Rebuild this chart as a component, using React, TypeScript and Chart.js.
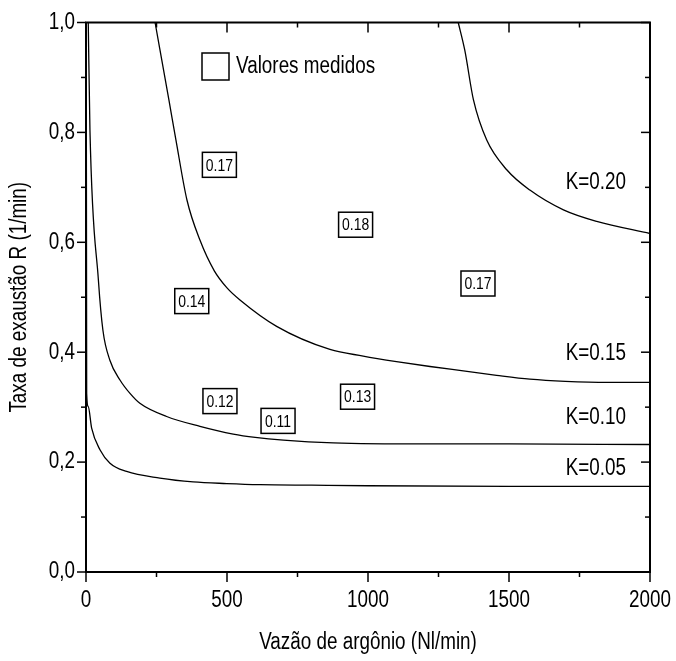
import React, { useEffect, useRef } from "react";
import { Chart, registerables } from "chart.js";

Chart.register(...registerables);

const FONT = '"Liberation Sans", Arial, sans-serif';
const NARROW = 0.82; // horizontal condensing to mimic Arial Narrow

// Axis tick labels
const xTicks = [0, 500, 1000, 1500, 2000];
const yTicks = [0, 0.2, 0.4, 0.6, 0.8, 1.0];

// Curves (x = Vazão de argônio, y = Taxa de exaustão)
const k05X = [1, 2.4, 8, 20, 50, 85, 144, 262, 380, 499, 617, 800, 1000, 1500, 2000];
const k05Y = [1.0, 0.325, 0.301, 0.262, 0.222, 0.198, 0.183, 0.171, 0.164, 0.161, 0.159, 0.158, 0.157, 0.156, 0.156];

const k10X = [8, 14, 44, 60, 85, 121, 156, 191, 286, 404, 522, 600, 700, 877, 1200, 1500, 2000];
const k10Y = [1.0, 0.804, 0.531, 0.44, 0.385, 0.349, 0.325, 0.307, 0.283, 0.265, 0.251, 0.245, 0.24, 0.235, 0.233, 0.233, 0.232];

const k15X = [245, 294, 319, 358, 404, 455, 500, 546, 676, 865, 983, 1101, 1220, 1338, 1456, 1574, 1700, 1850, 2000];
const k15Y = [1.0, 0.859, 0.786, 0.677, 0.604, 0.548, 0.517, 0.495, 0.447, 0.405, 0.393, 0.383, 0.374, 0.366, 0.358, 0.351, 0.347, 0.345, 0.345];

const k20X = [1320, 1343, 1374, 1421, 1492, 1574, 1693, 1811, 2000];
const k20Y = [1.0, 0.95, 0.859, 0.786, 0.732, 0.695, 0.659, 0.638, 0.616];

const curveLabels = ["K=0.05", "K=0.10", "K=0.15", "K=0.20"];

// Measured values (Valores medidos)
const measX = [473, 956, 375, 1390, 475, 963, 681];
const measY = [0.741, 0.632, 0.493, 0.525, 0.311, 0.319, 0.275];
const measLabels = ["0.17", "0.18", "0.14", "0.17", "0.12", "0.13", "0.11"];

const xTitle = "Vazão de argônio (Nl/min)";
const yTitle = "Taxa de exaustão R (1/min)";
const legendLabel = "Valores medidos";

// Annotation layout for curve labels (data coordinates, right-aligned)
const K_LABEL_POS = [
  { x: 1915, y: 0.1875 },
  { x: 1915, y: 0.28 },
  { x: 1915, y: 0.397 },
  { x: 1915, y: 0.708 },
];

function narrowText(
  ctx: CanvasRenderingContext2D,
  text: string,
  x: number,
  y: number,
  size: number,
  align: CanvasTextAlign,
  rotate = false
) {
  ctx.save();
  ctx.translate(x, y);
  if (rotate) ctx.rotate(-Math.PI / 2);
  ctx.scale(NARROW, 1);
  ctx.font = `${size}px ${FONT}`;
  ctx.textAlign = align;
  ctx.textBaseline = "middle";
  ctx.fillStyle = "#000";
  ctx.fillText(text, 0, 0);
  ctx.restore();
}

const framePlugin = {
  id: "frameAndAnnotations",
  afterDatasetsDraw(chart: any) {
    const { ctx, chartArea } = chart;
    const { left, right, top, bottom } = chartArea;
    const xs = chart.scales.x;
    const ys = chart.scales.y;
    const line = (x1: number, y1: number, x2: number, y2: number) => {
      ctx.beginPath();
      ctx.moveTo(x1, y1);
      ctx.lineTo(x2, y2);
      ctx.stroke();
    };
    ctx.save();
    ctx.strokeStyle = "#000";
    ctx.fillStyle = "#000";
    // frame
    ctx.lineWidth = 2;
    ctx.strokeRect(left, top, right - left, bottom - top);
    // ticks
    ctx.lineWidth = 1.5;
    const xMinors: number[] = [];
    for (let i = 0; i < xTicks.length - 1; i++) xMinors.push((xTicks[i] + xTicks[i + 1]) / 2);
    const yMinors: number[] = [];
    for (let i = 0; i < yTicks.length - 1; i++) yMinors.push((yTicks[i] + yTicks[i + 1]) / 2);
    xTicks.forEach((v) => {
      const p = xs.getPixelForValue(v);
      line(p, bottom, p, bottom + 10);
      line(p, top, p, top + 10);
    });
    xMinors.forEach((v) => {
      const p = xs.getPixelForValue(v);
      line(p, bottom, p, bottom + 5);
      line(p, top, p, top + 5);
    });
    yTicks.forEach((v) => {
      const p = ys.getPixelForValue(v);
      line(left - 9, p, left, p);
      line(right - 9, p, right, p);
    });
    yMinors.forEach((v) => {
      const p = ys.getPixelForValue(v);
      line(left - 5, p, left, p);
      line(right - 5, p, right, p);
    });

    // tick labels
    xTicks.forEach((v) => {
      narrowText(ctx, String(v), xs.getPixelForValue(v), bottom + 29, 23, "center");
    });
    yTicks.forEach((v) => {
      narrowText(ctx, v.toFixed(1).replace(".", ","), left - 11, ys.getPixelForValue(v), 23, "right");
    });
    // axis titles
    narrowText(ctx, xTitle, (left + right) / 2, bottom + 71, 23, "center");
    narrowText(ctx, yTitle, 20, (top + bottom) / 2, 23, "center", true);

    // measured value boxes
    const meta = chart.getDatasetMeta(4);
    meta.data.forEach((pt: any, i: number) => {
      const w = 34;
      const h = 25;
      ctx.fillStyle = "#fff";
      ctx.fillRect(pt.x - w / 2, pt.y - h / 2, w, h);
      ctx.lineWidth = 1.5;
      ctx.strokeRect(pt.x - w / 2, pt.y - h / 2, w, h);
      narrowText(ctx, measLabels[i], pt.x, pt.y + 1, 17, "center");
    });

    // curve labels
    K_LABEL_POS.forEach((pos, i) => {
      narrowText(ctx, curveLabels[i], xs.getPixelForValue(pos.x), ys.getPixelForValue(pos.y), 23, "right");
    });

    // legend
    const lx = left + 116;
    const ly = top + 30.5;
    ctx.lineWidth = 1.5;
    ctx.strokeRect(lx, ly, 27, 27);
    narrowText(ctx, legendLabel, lx + 34, ly + 14, 23, "left");
    ctx.restore();
  },
};

export default function App() {
  const canvasRef = useRef<HTMLCanvasElement | null>(null);

  useEffect(() => {
    const canvas = canvasRef.current;
    if (!canvas) return;
    const curves = [
      { x: k05X, y: k05Y, label: curveLabels[0] },
      { x: k10X, y: k10Y, label: curveLabels[1] },
      { x: k15X, y: k15Y, label: curveLabels[2] },
      { x: k20X, y: k20Y, label: curveLabels[3] },
    ];
    const chart = new Chart(canvas, {
      type: "line",
      data: {
        datasets: [
          ...curves.map((c) => ({
            label: c.label,
            data: c.x.map((x, i) => ({ x, y: c.y[i] })),
            borderColor: "#000",
            borderWidth: 1.3,
            pointRadius: 0,
            cubicInterpolationMode: "monotone" as const,
            fill: false,
          })),
          {
            type: "scatter" as const,
            label: legendLabel,
            data: measX.map((x, i) => ({ x, y: measY[i] })),
            pointRadius: 0,
            showLine: false,
          } as any,
        ],
      },
      options: {
        animation: false,
        responsive: false,
        devicePixelRatio: 1,
        layout: { padding: { top: 22.5, right: 26, left: 0, bottom: 0 } },
        plugins: { legend: { display: false }, tooltip: { enabled: false } },
        scales: {
          x: {
            type: "linear",
            position: "bottom",
            min: xTicks[0],
            max: xTicks[xTicks.length - 1],
            afterBuildTicks: (s: any) => {
              s.ticks = xTicks.map((v) => ({ value: v }));
            },
            ticks: { display: false },
            grid: { display: false, drawTicks: false },
            border: { display: false },
            title: { display: false, text: xTitle },
            afterFit: (s: any) => {
              s.height = 89;
              s.paddingLeft = 0;
              s.paddingRight = 0;
            },
          },
          y: {
            type: "linear",
            position: "left",
            min: yTicks[0],
            max: yTicks[yTicks.length - 1],
            afterBuildTicks: (s: any) => {
              s.ticks = yTicks.map((v) => ({ value: v }));
            },
            ticks: { display: false },
            grid: { display: false, drawTicks: false },
            border: { display: false },
            title: { display: false, text: yTitle },
            afterFit: (s: any) => {
              s.width = 86;
              s.paddingTop = 0;
              s.paddingBottom = 0;
            },
          },
        },
      },
      plugins: [framePlugin],
    } as any);
    return () => chart.destroy();
  }, []);

  return (
    <div style={{ position: "fixed", left: 0, top: 0, width: 676, height: 661, background: "#fff" }}>
      <canvas ref={canvasRef} width={676} height={661} style={{ display: "block", width: 676, height: 661 }} />
    </div>
  );
}
